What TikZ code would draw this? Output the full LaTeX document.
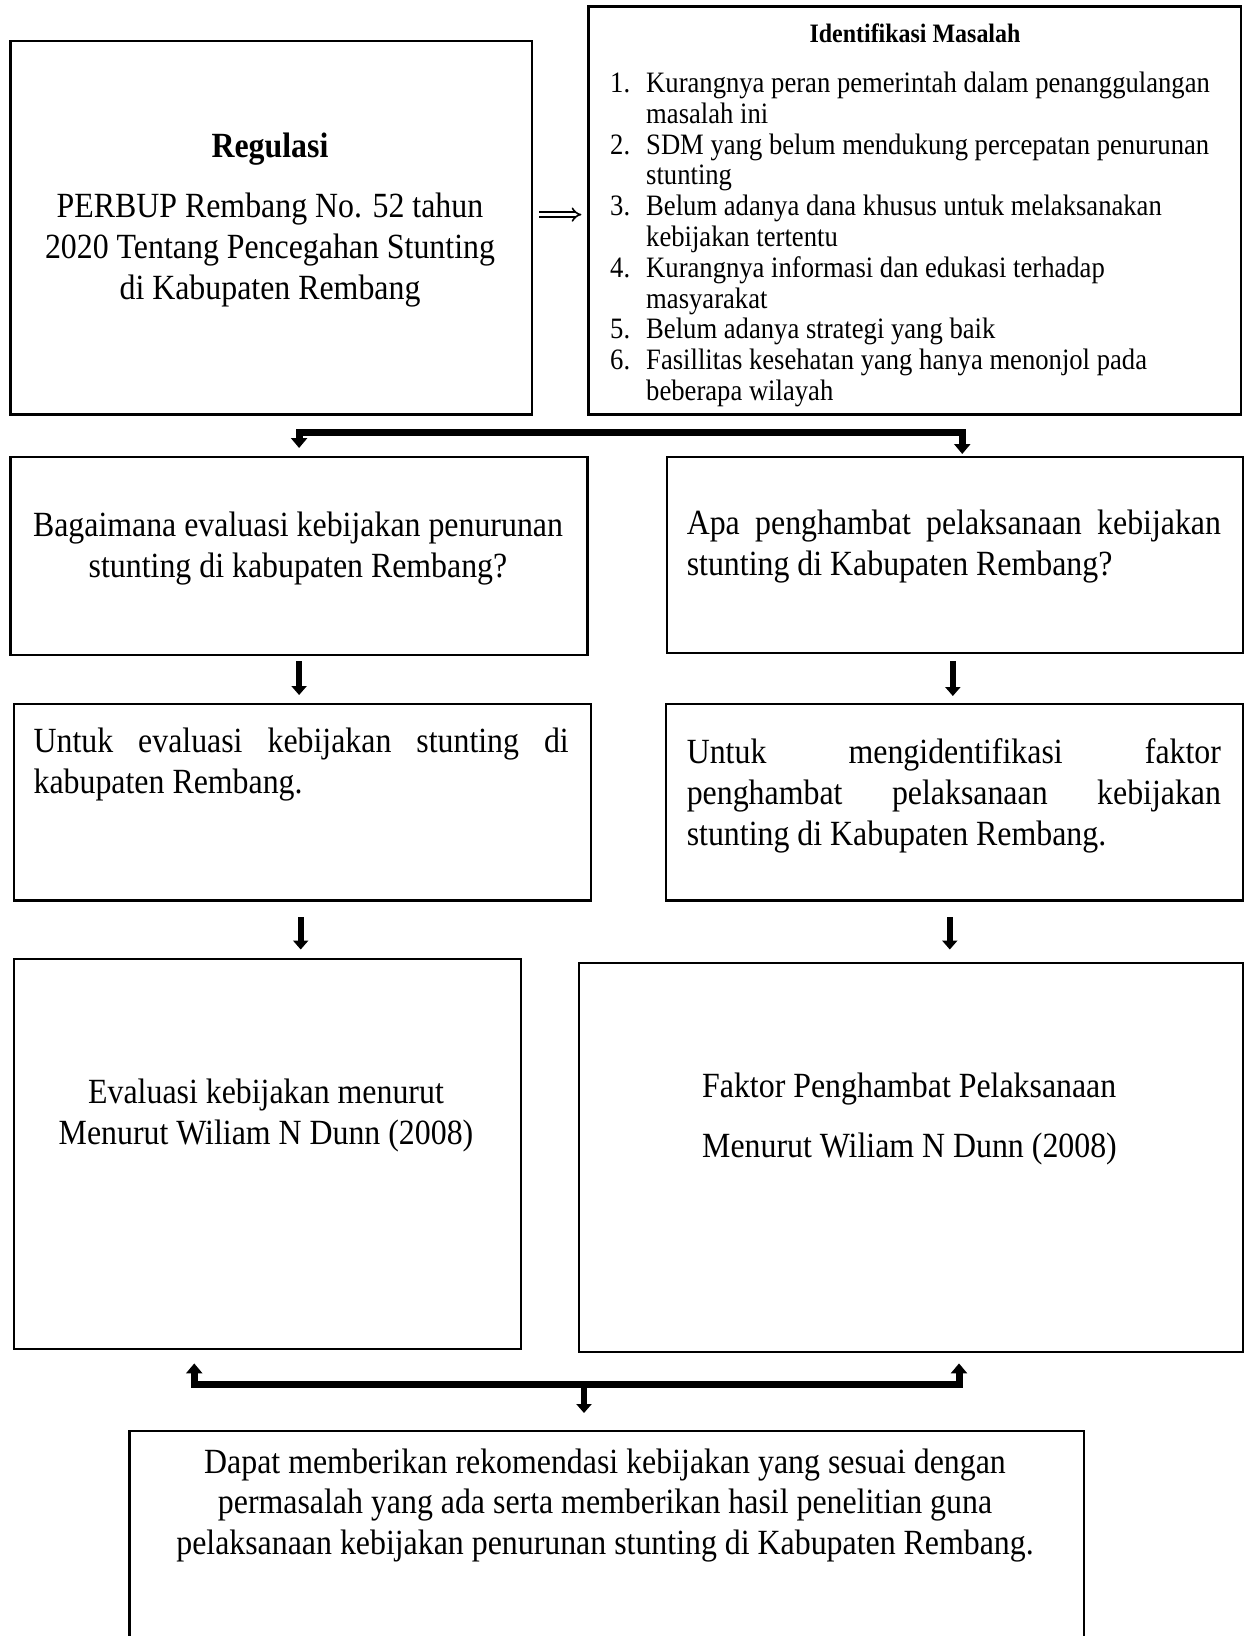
\documentclass[tikz,border=0pt]{standalone}
\usepackage{fontspec}
\setmainfont{Liberation Serif}[FakeStretch=0.9]
\usetikzlibrary{arrows.meta,calc}
\newcommand\mainsz{\fontsize{35.4pt}{40.7pt}\selectfont}
\newcommand\listsz{\fontsize{29.6pt}{30.8pt}\selectfont}
\newcommand\headsz{\fontsize{26.6pt}{30pt}\selectfont\bfseries}
\newcommand\itm[1]{\makebox[36pt][l]{#1}}
\newcommand\jl[1]{\makebox[534.2pt][s]{#1}}
\begin{document}
\begin{tikzpicture}[x=1pt,y=-1pt,
  box/.style={draw, line width=2.4pt, anchor=north west, inner sep=0pt},
  txt/.style={inner sep=0pt, font=\mainsz, align=center},
  ltxt/.style={inner sep=0pt, font=\mainsz, align=left, anchor=west},
  arr/.style={line width=6pt, -{Triangle[width=15pt,length=9pt]}},
  bar/.style={line width=7pt, {Triangle[width=16pt,length=10pt]}-{Triangle[width=16pt,length=10pt]}},
  imp/.style={double, double distance=3.2pt, line width=1.6pt, -{Implies[scale=1.3]}}]
\useasboundingbox (0,0) rectangle (1249,1636);
\clip (0,0) rectangle (1249,1636);

% boxes
\node[box, minimum width=521.6pt, minimum height=373.6pt] (A) at (9.4,39.6) {};
\node[box, minimum width=652.2pt, minimum height=408pt] (B) at (587.4,5.2) {};
\node[box, minimum width=577pt, minimum height=198pt] (C) at (9.4,456) {};
\node[box, minimum width=575.9pt, minimum height=196pt] (D) at (665.7,456) {};
\node[box, minimum width=577pt, minimum height=196.4pt] (E) at (12.5,703) {};
\node[box, minimum width=577pt, minimum height=196.4pt] (F) at (664.6,703) {};
\node[box, minimum width=507.1pt, minimum height=390.2pt] (G) at (12.5,957.8) {};
\node[box, minimum width=663.6pt, minimum height=389pt] (H) at (578,962) {};
\node[box, minimum width=954.7pt, minimum height=300pt] (I) at (128.3,1429.5) {};

% texts
\node[txt, font=\mainsz\bfseries] (tA0) at (270,149.5) {Regulasi};
\node[txt] (tA) at (270,250) {PERBUP Rembang No. 52 tahun\\2020 Tentang Pencegahan Stunting\\di Kabupaten Rembang};
\node[txt, font=\headsz] (tB0) at (915,32.8) {Identifikasi Masalah};
\node[ltxt, font=\listsz] (tB) at (610,239.5) {%
\itm{1.}Kurangnya peran pemerintah dalam penanggulangan\\
\itm{}masalah ini\\
\itm{2.}SDM yang belum mendukung percepatan penurunan\\
\itm{}stunting\\
\itm{3.}Belum adanya dana khusus untuk melaksanakan\\
\itm{}kebijakan tertentu\\
\itm{4.}Kurangnya informasi dan edukasi terhadap\\
\itm{}masyarakat\\
\itm{5.}Belum adanya strategi yang baik\\
\itm{6.}Fasillitas kesehatan yang hanya menonjol pada\\
\itm{}beberapa wilayah};
\node[txt] (tC) at (298,548.2) {Bagaimana evaluasi kebijakan penurunan\\stunting di kabupaten Rembang?};
\node[ltxt] (tD) at (686.6,546.5) {\jl{Apa penghambat pelaksanaan kebijakan}\\stunting di Kabupaten Rembang?};
\node[ltxt] (tE) at (33.4,764.7) {\makebox[535.2pt][s]{Untuk evaluasi kebijakan stunting di}\\kabupaten Rembang.};
\node[ltxt] (tF) at (686.6,795.8) {\jl{Untuk mengidentifikasi faktor}\\\jl{penghambat pelaksanaan kebijakan}\\stunting di Kabupaten Rembang.};
\node[txt] (tG) at (266,1115.2) {Evaluasi kebijakan menurut\\Menurut Wiliam N Dunn (2008)};
\node[ltxt] (tH) at (702,1118.9) {Faktor Penghambat Pelaksanaan\\[20pt]Menurut Wiliam N Dunn (2008)};
\node[txt] (tI) at (605,1505.5) {Dapat memberikan rekomendasi kebijakan yang sesuai dengan\\permasalah yang ada serta memberikan hasil penelitian guna\\pelaksanaan kebijakan penurunan stunting di Kabupaten Rembang.};

% connectors
\coordinate (dS) at ([xshift=6pt,yshift=13pt]A.east);
\draw[imp, shorten >=6pt] (dS) -- (dS -| B.west);

\draw[bar] ([yshift=8pt]C.north) -- ++(0,-16) -| ([xshift=7.4pt,yshift=2pt]D.north);

\draw[arr, shorten <=5pt, shorten >=8pt] (C.south) -- (C.south |- E.north);
\draw[arr, shorten <=7pt, shorten >=7pt] ([xshift=-2pt]D.south) -- ([xshift=-2pt]D.south |- F.north);
\draw[arr, shorten <=15.6pt, shorten >=8.3pt] ([xshift=-1.5pt]E.south) -- ([xshift=-1.5pt]E.south |- G.north);
\draw[arr, shorten <=15.6pt, shorten >=12.5pt] ([xshift=-4.5pt]F.south) -- ([xshift=-4.5pt]F.south |- H.north);

\draw[bar] ([xshift=-73pt,yshift=-13pt]G.south) -- ++(0,21) -| ([xshift=48pt,yshift=-10pt]H.south);
\coordinate (mid) at (584,1382);
\draw[arr, shorten >=16.5pt] (mid) -- (mid |- I.north);
\end{tikzpicture}
\end{document}
